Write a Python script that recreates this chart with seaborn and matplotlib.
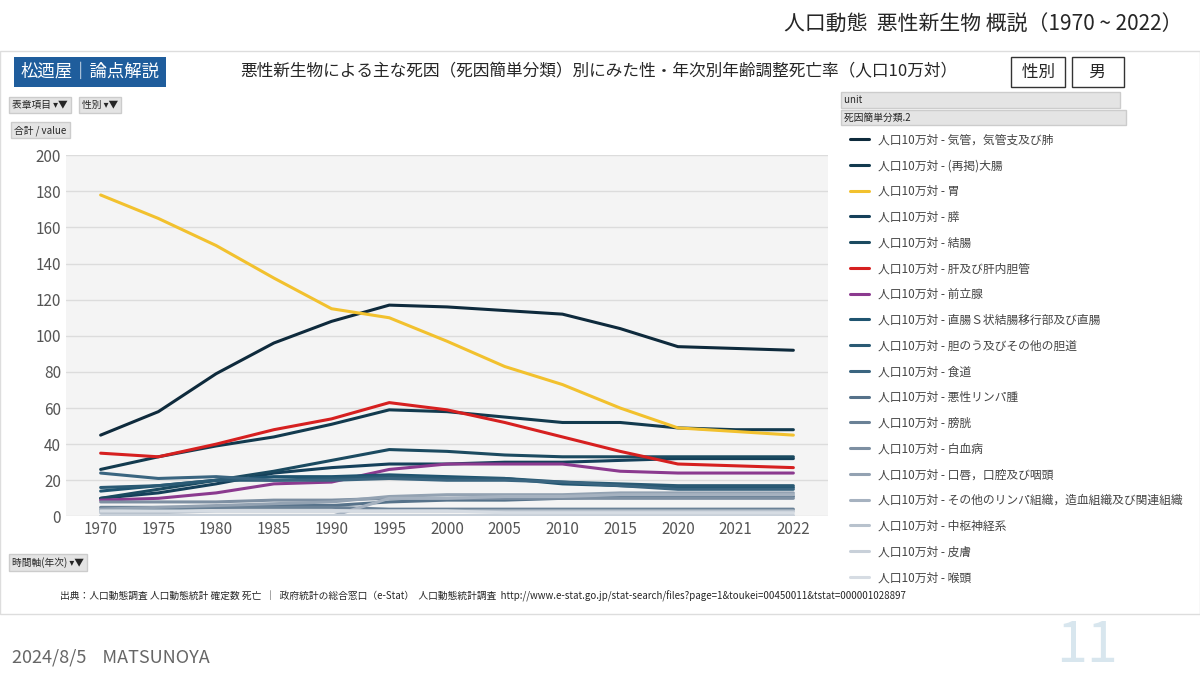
import numpy as np
import pandas as pd
import matplotlib.pyplot as plt
import seaborn as sns
from matplotlib.patches import Rectangle

sns.set_theme(style="white")
plt.rcParams['font.family'] = ['Noto Sans CJK JP', 'DejaVu Sans']

years = ['1970', '1975', '1980', '1985', '1990', '1995', '2000', '2005', '2010', '2015', '2020', '2021', '2022']
causes = ['気管，気管支及び肺', '(再掲)大腸', '胃', '膵', '結腸', '肝及び肝内胆管', '前立腺',
          '直腸Ｓ状結腸移行部及び直腸', '胆のう及びその他の胆道', '食道', '悪性リンパ腫', '膀胱',
          '白血病', '口唇，口腔及び咽頭', 'その他のリンパ組織，造血組織及び関連組織', '中枢神経系', '皮膚', '喉頭']
values = [
    [45, 58, 79, 96, 108, 117, 116, 114, 112, 104, 94, 93, 92],
    [26, 33, 39, 44, 51, 59, 58, 55, 52, 52, 49, 48, 48],
    [178, 165, 150, 132, 115, 110, 97, 83, 73, 60, 49, 47, 45],
    [10, 13, 18, 24, 27, 29, 29, 30, 30, 31, 32, 32, 32],
    [10, 15, 20, 25, 31, 37, 36, 34, 33, 33, 33, 33, 33],
    [35, 33, 40, 48, 54, 63, 59, 52, 44, 36, 29, 28, 27],
    [9, 10, 13, 18, 19, 26, 29, 29, 29, 25, 24, 24, 24],
    [14, 17, 20, 22, 22, 23, 22, 21, 18, 17, 16, 16, 16],
    [16, 17, 20, 20, 21, 22, 21, 21, 19, 18, 17, 17, 17],
    [24, 21, 22, 20, 20, 21, 20, 20, 19, 17, 15, 15, 15],
    [3, 4, 5, 6, 6, 8, 9, 9, 10, 11, 11, 11, 11],
    [5, 5, 5, 5, 5, 4, 4, 4, 4, 4, 4, 4, 4],
    [8, 8, 8, 9, 9, 10, 10, 10, 10, 10, 10, 10, 10],
    [4, 5, 6, 7, 8, 11, 12, 12, 12, 13, 13, 13, 13],
    [0, 0, 0, 0, 0, 10, 10, 11, 11, 12, 12, 12, 12],
    [2, 2, 3, 3, 3, 3, 3, 3, 3, 3, 3, 3, 3],
    [1, 1, 1, 1, 1, 1, 1, 1, 1, 1, 1, 1, 1],
    [3, 3, 3, 3, 3, 3, 3, 2, 2, 2, 2, 2, 2],
]
colors = ['#0e2a3c', '#123a4e', '#f2c12e', '#15405a', '#1b4a60', '#d62020', '#8b3a8f',
          '#1f5470', '#2a5a74', '#3a6580', '#56728a', '#6a8196', '#7d8fa2', '#93a2b2',
          '#a6b2c0', '#b8c2cd', '#c8d0d9', '#d6dce3']

rows = []
for c, v in zip(causes, values):
    for y, val in zip(years, v):
        rows.append({'year': y, 'cause': '人口10万対 - ' + c, 'value': val})
df = pd.DataFrame(rows)

fig = plt.figure(figsize=(12, 6.75), dpi=100)
fig.patch.set_facecolor('white')

# slide frame
fig.patches.append(Rectangle((0.0, 0.09), 1.0, 0.835, transform=fig.transFigure,
                             facecolor='white', edgecolor='#dddddd', lw=1, zorder=-10))
fig.text(0.985, 0.965, '人口動態  悪性新生物 概説（1970 ~ 2022）', ha='right', va='center', fontsize=15)
fig.text(0.01, 0.013, '2024/8/5    MATSUNOYA', ha='left', va='bottom', fontsize=13, color='#666666',
         style='italic')
fig.text(0.88, 0.0, '11', ha='left', va='bottom', fontsize=40, color='#d8e6ee')

fig.text(0.075, 0.893, '松迺屋｜論点解説', ha='center', va='center', fontsize=12.5, color='white',
         bbox=dict(boxstyle='square,pad=0.35', fc='#1f5d9c', ec='none'))
fig.text(0.2, 0.893, '悪性新生物による主な死因（死因簡単分類）別にみた性・年次別年齢調整死亡率（人口10万対）',
         ha='left', va='center', fontsize=12)
fig.text(0.865, 0.893, ' 性別 ', ha='center', va='center', fontsize=12,
         bbox=dict(boxstyle='square,pad=0.4', fc='white', ec='#333333'))
fig.text(0.915, 0.893, '   男   ', ha='center', va='center', fontsize=12,
         bbox=dict(boxstyle='square,pad=0.4', fc='white', ec='#333333'))
for x, t in [(0.01, '表章項目 ▾▼'), (0.068, '性別 ▾▼')]:
    fig.text(x, 0.845, t, ha='left', va='center', fontsize=7,
             bbox=dict(boxstyle='square,pad=0.3', fc='#e4e4e4', ec='#cccccc'))
fig.text(0.012, 0.807, '合計 / value', ha='left', va='center', fontsize=7,
         bbox=dict(boxstyle='square,pad=0.3', fc='#e4e4e4', ec='#cccccc'))
fig.text(0.01, 0.167, '時間軸(年次) ▾▼', ha='left', va='center', fontsize=7,
         bbox=dict(boxstyle='square,pad=0.3', fc='#e4e4e4', ec='#cccccc'))
fig.text(0.05, 0.117, '出典：人口動態調査 人口動態統計 確定数 死亡  ｜  政府統計の総合窓口（e-Stat）  人口動態統計調査  '
         'http://www.e-stat.go.jp/stat-search/files?page=1&toukei=00450011&tstat=000001028897',
         ha='left', va='center', fontsize=7)
fig.text(0.703, 0.852, 'unit' + ' ' * 120, ha='left', va='center', fontsize=7,
         bbox=dict(boxstyle='square,pad=0.3', fc='#e4e4e4', ec='#cccccc'))
fig.text(0.703, 0.826, '死因簡単分類.2' + ' ' * 100, ha='left', va='center', fontsize=7,
         bbox=dict(boxstyle='square,pad=0.3', fc='#e4e4e4', ec='#cccccc'))

ax = fig.add_axes([0.055, 0.235, 0.635, 0.535])
ax.set_facecolor('#f4f4f4')
sns.lineplot(data=df, x='year', y='value', hue='cause', palette=colors, sort=False, lw=2.2, ax=ax)
ax.set_ylim(0, 200)
ax.set_yticks(range(0, 201, 20))
ax.set_xlim(-0.6, 12.6)
ax.grid(axis='y', color='#dcdcdc', lw=1)
ax.set_axisbelow(True)
for s in ax.spines.values():
    s.set_visible(False)
ax.tick_params(labelsize=11, colors='#555555', length=0)
ax.set_xlabel('')
ax.set_ylabel('')
handles, labels = ax.get_legend_handles_labels()
ax.legend(handles, labels, loc='upper left', bbox_to_anchor=(1.015, 1.09), frameon=False,
          fontsize=8.5, labelspacing=1.08, handlelength=1.6, labelcolor='#444444')

fig.savefig('out.png', dpi=100)
